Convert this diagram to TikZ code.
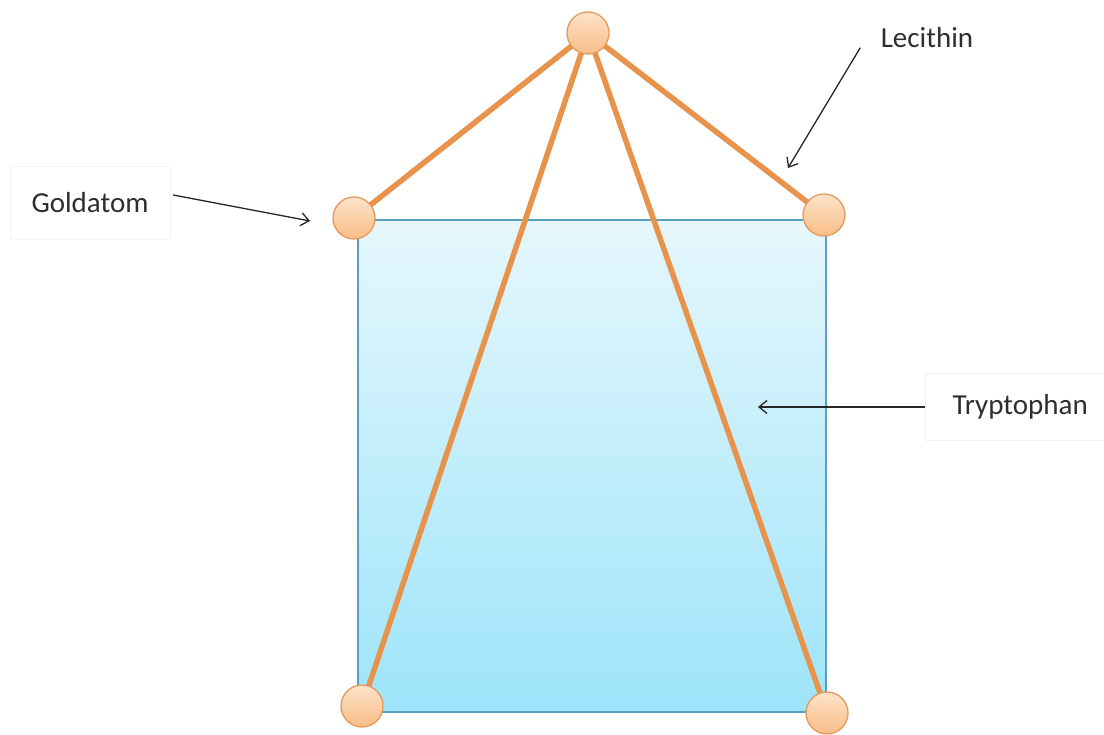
\documentclass[tikz,border=0pt]{standalone}
\usepackage{fontspec}
\setmainfont{Carlito}
\usetikzlibrary{positioning,arrows.meta}
\definecolor{bondorange}{HTML}{E8934C}
\definecolor{atomedge}{HTML}{E39A5C}
\definecolor{atomtop}{HTML}{FDE3CA}
\definecolor{atombot}{HTML}{F9BD86}
\definecolor{celltop}{HTML}{E6F7FC}
\definecolor{cellbot}{HTML}{9DE4FA}
\definecolor{celledge}{HTML}{5A9EC2}
\definecolor{tagtext}{HTML}{2E2E2E}

\begin{document}
\begin{tikzpicture}[x=1pt, y=-1pt, atom/.style={circle, draw=atomedge, line width=1.3pt, top color=atomtop, bottom color=atombot, minimum size=42pt, inner sep=0pt}, bond/.style={bondorange, line width=5.5pt}, tag/.style={font=\fontsize{29}{32}\selectfont, text=tagtext}, pointer/.style={-{Straight Barb[length=8pt, width=13pt]}, line width=1.3pt, black!85}]
\useasboundingbox (0,0) rectangle (1104,735);
\shade[top color=celltop, bottom color=cellbot, draw=celledge, line width=1.2pt] (358,220) rectangle (826,712);
\coordinate (apex) at (588,33);
\coordinate (ltop) at (354,218);
\coordinate (rtop) at (824,215);
\coordinate (lbot) at (362,706);
\coordinate (rbot) at (827,713);
\draw[bond] (apex) -- (ltop);
\draw[bond] (apex) -- (rtop);
\draw[bond] (apex) -- (lbot);
\draw[bond] (apex) -- (rbot);
\foreach \a in {apex,ltop,rtop,lbot,rbot}
  \node[atom] (\a-atom) at (\a) {};
\node[tag, draw=black!4, minimum width=160pt, minimum height=73pt] (gold) at (90,203) {Goldatom};
\node[tag] (leci) at (927,38) {Lecithin};
\node[tag, draw=black!5, minimum width=190pt, minimum height=67pt, anchor=west] (tryp) at (925,407) {Tryptophan};
\coordinate (goldtip) at (310,221);
\coordinate (lecitip) at (788,168);
\coordinate (tryptip) at (758,407);
\draw[pointer] ([shift={(3,-8)}]gold.east) -- (goldtip);
\draw[pointer] ([shift={(-17,-4)}]leci.south west) -- (lecitip);
\draw[pointer] (tryp.west) -- (tryptip);
\end{tikzpicture}
\end{document}
